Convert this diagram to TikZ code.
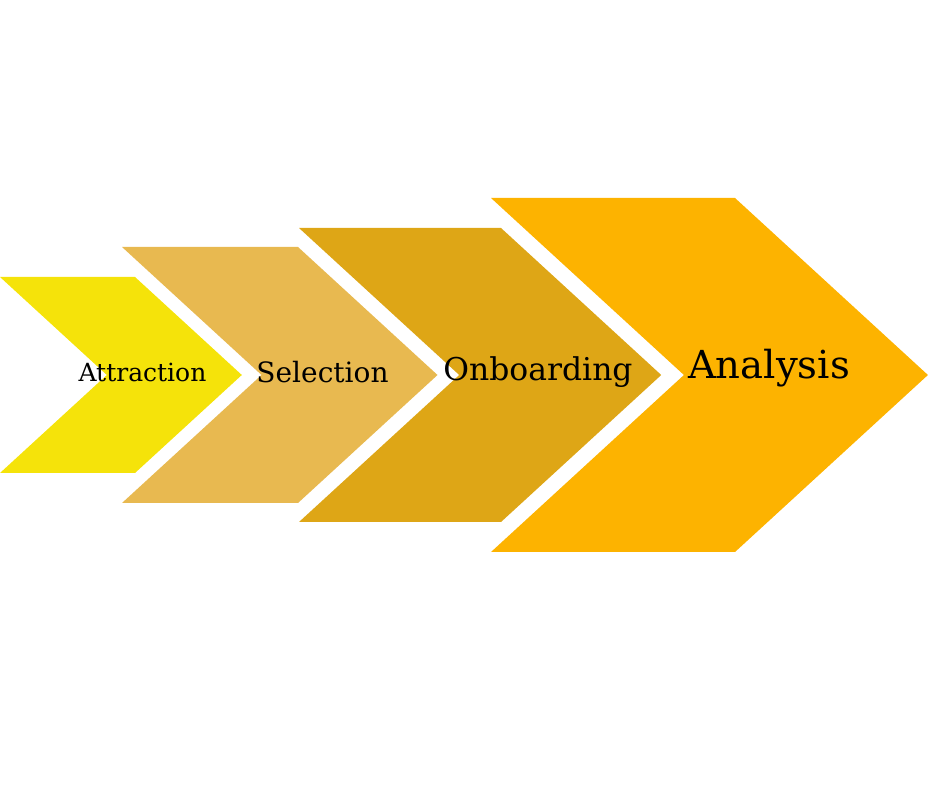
\documentclass[tikz,border=0pt]{standalone}
\usepackage{fontspec}
\setmainfont{DejaVu Serif}
\definecolor{attrcol}{HTML}{F5E30A}
\definecolor{selcol}{HTML}{E8B950}
\definecolor{onbcol}{HTML}{DEA616}
\definecolor{anacol}{HTML}{FDB300}
\begin{document}
\begin{tikzpicture}[x=1pt,y=1pt]
	\useasboundingbox (0,0) rectangle (940,788);
	% chevrons: left x / top right x / half height / colour
	\foreach \l/\r/\h/\c in {0/135/98/attrcol,122/298/128/selcol,299/501/147/onbcol,491/735/177/anacol}
	{\fill[\c] (\l,413+\h) -- (\r,413+\h) -- (\r+1.09*\h,413) -- (\r,413-\h) -- (\l,413-\h) -- (\l+1.09*\h,413) -- cycle;}
	\begin{scope}[every node/.style={anchor=base,inner sep=0pt,text=black}]
	\node[font=\fontsize{25}{30}\selectfont] (attraction) at (142.5,406) {Attraction};
	\node[font=\fontsize{28}{34}\selectfont] (selection) at (322.5,405) {Selection};
	\node[font=\fontsize{31.4}{38}\selectfont] (onboarding) at (538,407) {Onboarding};
	\node[font=\fontsize{38.6}{46}\selectfont] (analysis) at (769,409) {Analysis};
	\end{scope}
\end{tikzpicture}
\end{document}
